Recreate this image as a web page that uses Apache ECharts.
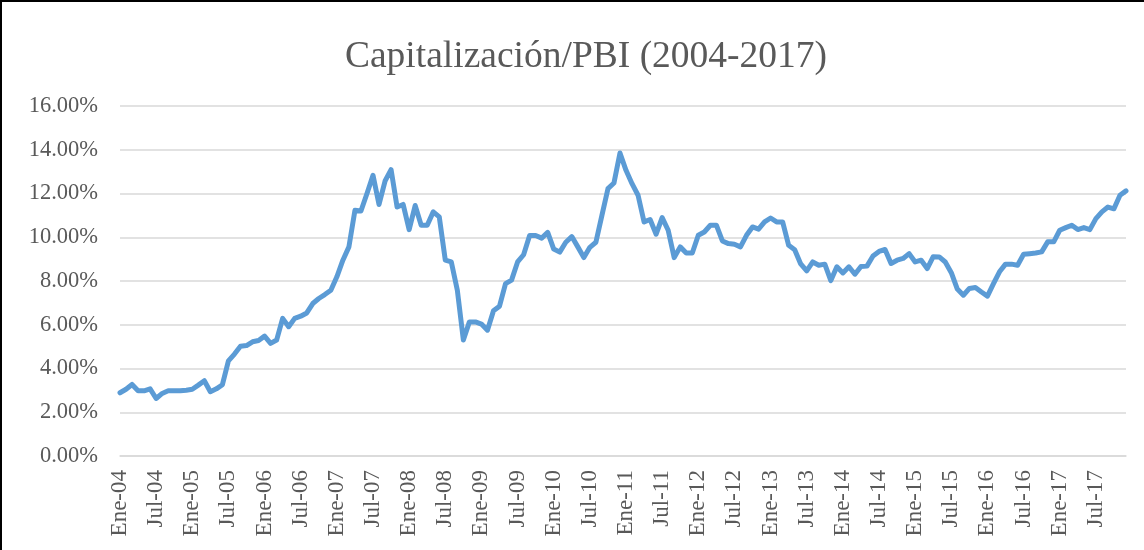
<!DOCTYPE html>
<html>
<head>
<meta charset="utf-8">
<script src="https://cdn.jsdelivr.net/npm/echarts@6/dist/echarts.min.js"></script>
<style>
  html, body { margin: 0; padding: 0; background: #fff; }
  #grafico { width: 1144px; height: 550px; }
</style>
</head>
<body>
<div id="grafico"></div>
<script>
// meses y años del eje
var meses = ['Ene', 'Feb', 'Mar', 'Abr', 'May', 'Jun', 'Jul', 'Ago', 'Sep', 'Oct', 'Nov', 'Dic'];
var anios = ['04', '05', '06', '07', '08', '09', '10', '11', '12', '13', '14', '15', '16', '17'];

// capitalización / PBI en %, ene-04 a dic-17
var capPbi = [
  2.89, 3.05, 3.27, 2.98, 2.98, 3.07, 2.63, 2.86, 2.98, 2.98, 2.98, 3.01,
  3.05, 3.24, 3.44, 2.94, 3.07, 3.26, 4.35, 4.66, 5.02, 5.05, 5.22, 5.28,
  5.48, 5.15, 5.30, 6.29, 5.91, 6.29, 6.39, 6.54, 6.97, 7.20, 7.38, 7.58,
  8.19, 8.95, 9.56, 11.23, 11.20, 12.00, 12.83, 11.50, 12.57, 13.09, 11.38, 11.50,
  10.35, 11.45, 10.55, 10.55, 11.16, 10.93, 8.95, 8.87, 7.58, 5.30, 6.13, 6.13,
  6.03, 5.75, 6.64, 6.85, 7.88, 8.04, 8.87, 9.20, 10.08, 10.08, 9.96, 10.22,
  9.46, 9.32, 9.77, 10.03, 9.56, 9.07, 9.54, 9.77, 11.00, 12.22, 12.48, 13.85,
  13.06, 12.45, 11.92, 10.70, 10.81, 10.14, 10.90, 10.32, 9.07, 9.56, 9.28, 9.28,
  10.09, 10.24, 10.55, 10.55, 9.83, 9.71, 9.68, 9.56, 10.09, 10.47, 10.37, 10.70,
  10.88, 10.70, 10.70, 9.63, 9.43, 8.78, 8.46, 8.87, 8.72, 8.77, 8.02, 8.65,
  8.37, 8.65, 8.31, 8.66, 8.68, 9.14, 9.35, 9.44, 8.80, 8.95, 9.03, 9.25,
  8.87, 8.95, 8.57, 9.11, 9.10, 8.87, 8.38, 7.63, 7.35, 7.66, 7.70, 7.50,
  7.31, 7.88, 8.42, 8.77, 8.77, 8.72, 9.22, 9.25, 9.28, 9.33, 9.79, 9.79,
  10.32, 10.44, 10.55, 10.35, 10.44, 10.35, 10.85, 11.16, 11.38, 11.30, 11.92, 12.12
];

var yMin = 0, yMax = 16, yPaso = 2;

var categorias = [];
anios.forEach(function (a) {
  meses.forEach(function (m) { categorias.push(m + '-' + a); });
});

function drawGrafico () {
  var chartDom = document.getElementById('grafico');
  var myChart = echarts.init(chartDom);
  var option;

  var fuente = '"Liberation Serif", "Times New Roman", serif';

  option = {
    backgroundColor: '#fff',
    animation: false,
    title: {
      text: 'Capitalización/PBI (2004-2017)',
      left: 581,
      top: 32,
      textAlign: 'center',
      textStyle: { fontFamily: fuente, fontSize: 37.5, fontWeight: 'normal', color: '#595959', lineHeight: 40 }
    },
    graphic: [{
      type: 'rect',
      shape: { x: 1, y: 1, width: 1200, height: 600 },
      style: { fill: null, stroke: '#000', lineWidth: 2 },
      z: 100
    }],
    grid: { left: 120, right: 18, top: 106, bottom: 94 },
    xAxis: {
      type: 'category',
      data: categorias,
      boundaryGap: false,
      axisLine: { lineStyle: { color: '#d9d9d9', width: 1.5 } },
      axisTick: { show: false },
      axisLabel: {
        interval: 5,
        rotate: 90,
        margin: 14,
        fontFamily: fuente,
        fontSize: 23,
        color: '#595959'
      }
    },
    yAxis: {
      type: 'value',
      min: yMin,
      max: yMax,
      interval: yPaso,
      axisLine: { show: false },
      axisTick: { show: false },
      splitLine: { lineStyle: { color: '#d9d9d9', width: 1.5 } },
      axisLabel: {
        margin: 22,
        fontFamily: fuente,
        fontSize: 22.5,
        color: '#595959',
        formatter: function (v) { return v.toFixed(2) + '%'; }
      }
    },
    series: [{
      name: 'Capitalización/PBI',
      type: 'line',
      data: capPbi,
      showSymbol: false,
      lineStyle: { color: '#5b9bd5', width: 5, join: 'round', cap: 'round' }
    }]
  };

  option && myChart.setOption(option);
}

drawGrafico();
</script>
</body>
</html>
